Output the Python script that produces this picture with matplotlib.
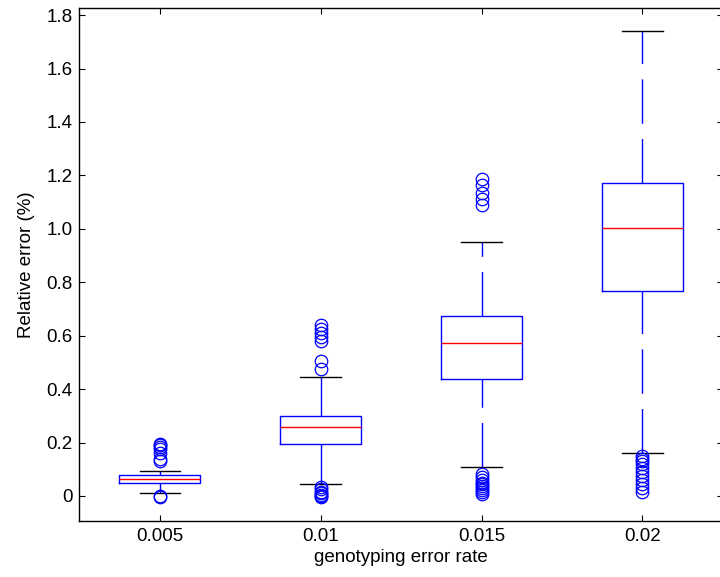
import matplotlib
matplotlib.use("Agg")
import matplotlib.pyplot as plt

plt.rcParams['font.family'] = ['Liberation Sans', 'DejaVu Sans']

# genotyping error rates on the x axis
rates = ['0.005', '0.01', '0.015', '0.02']

# box statistics of the relative error (%)
medians = [0.065, 0.257, 0.571, 1.003]
q1 = [0.050, 0.195, 0.437, 0.766]
q3 = [0.077, 0.300, 0.674, 1.172]
whisker_lo = [0.010, 0.044, 0.110, 0.161]
whisker_hi = [0.094, 0.446, 0.952, 1.742]

# outliers beyond the whiskers
outliers = [
    [0.195, 0.190, 0.182, 0.175, 0.160, 0.140, 0.132, 0.000, -0.003],
    [0.640, 0.624, 0.609, 0.594, 0.580, 0.505, 0.475,
     0.035, 0.025, 0.015, 0.010, 0.005, 0.000, -0.005],
    [1.186, 1.164, 1.133, 1.110, 1.089,
     0.082, 0.070, 0.060, 0.050, 0.045, 0.038, 0.030, 0.022, 0.015, 0.008],
    [0.150, 0.140, 0.130, 0.120, 0.105, 0.090, 0.075, 0.060, 0.045,
     0.030, 0.015],
]

ytick_vals = [0, 0.2, 0.4, 0.6, 0.8, 1.0, 1.2, 1.4, 1.6, 1.8]
ytick_labels = ['0', '0.2', '0.4', '0.6', '0.8', '1.0', '1.2', '1.4', '1.6', '1.8']

stats = []
for i in range(len(rates)):
    stats.append({
        'med': medians[i], 'q1': q1[i], 'q3': q3[i],
        'whislo': whisker_lo[i], 'whishi': whisker_hi[i],
        'fliers': outliers[i], 'label': rates[i],
    })

fig = plt.figure(figsize=(7.2, 5.77), dpi=100)
ax = fig.add_axes([0.110, 0.0976, 0.894, 0.8878])

blue = (0, 0, 1)
parts = ax.bxp(
    stats, positions=range(1, len(rates) + 1), widths=0.5, capwidths=0.25,
    boxprops=dict(color=blue, lw=1.0),
    medianprops=dict(color='red', lw=1.0),
    whiskerprops=dict(color=blue, lw=1.0, linestyle=(0, (32, 11))),
    capprops=dict(color='black', lw=1.0),
    flierprops=dict(marker='o', markerfacecolor='none', markeredgecolor=blue,
                    markersize=9, markeredgewidth=0.9, linestyle='none'),
)

# lower whiskers dash from the cap up to the box
for w in parts['whiskers'][0::2]:
    x, y = w.get_data()
    w.set_data(x[::-1], y[::-1])

ax.set_xlim(0.5, 4.5)
ax.set_ylim(-0.0925, 1.825)
ax.set_yticks(ytick_vals)
ax.set_yticklabels(ytick_labels)
ax.set_xticklabels(rates)

ax.tick_params(direction='in', length=4.5, width=0.8, labelsize=13.5,
               top=True, right=True, pad=5)
for s in ax.spines.values():
    s.set_linewidth(1.0)

ax.set_xlabel('genotyping error rate', fontsize=13.5, labelpad=3)
ax.set_ylabel('Relative error (%)', fontsize=13.5, labelpad=8)

fig.savefig('out.png', dpi=100)
